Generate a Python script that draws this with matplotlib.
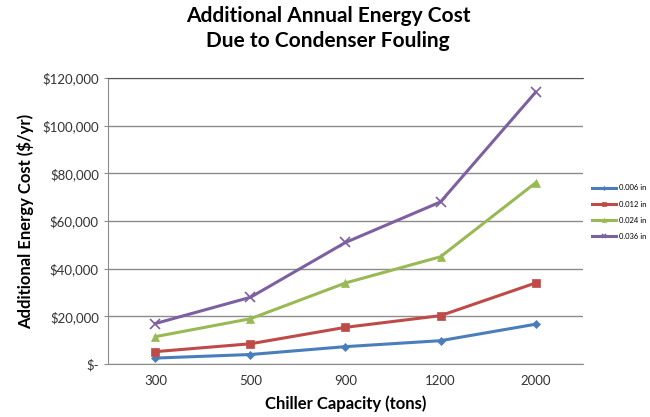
import matplotlib.pyplot as plt
from matplotlib.ticker import FuncFormatter

plt.rcParams['font.family'] = ['Lato', 'DejaVu Sans']

# Chart data
capacities = ['300', '500', '900', '1200', '2000']
cost_006 = [2500, 4000, 7300, 9800, 16700]
cost_012 = [5200, 8500, 15400, 20300, 34000]
cost_024 = [11500, 19000, 34000, 45000, 76000]
cost_036 = [17000, 28000, 51000, 68000, 114000]
series_labels = ['0.006 in', '0.012 in', '0.024 in', '0.036 in']

colors = ['#4A7EBB', '#BE4B48', '#98B954', '#7D60A0']
markers = ['D', 's', '^', 'x']
sizes = [4, 6, 6, 7]


def money(v, pos):
    if v == 0:
        return '$-'
    return '${:,.0f}'.format(v)


fig = plt.figure(figsize=(6.5, 4.17), dpi=100)
ax = fig.add_axes([0.166, 0.127, 0.731, 0.686])

x = range(len(capacities))
for vals, lab, c, m, s in zip([cost_006, cost_012, cost_024, cost_036],
                              series_labels, colors, markers, sizes):
    ax.plot(x, vals, color=c, marker=m, markersize=s, lw=2.2, label=lab,
            markeredgewidth=1.2 if m == 'x' else 0.5, markeredgecolor=c)

ax.set_xlim(-0.5, 4.5)
ax.set_ylim(0, 120000)
ax.set_yticks(range(0, 120001, 20000))
ax.yaxis.set_major_formatter(FuncFormatter(money))
ax.set_xticks(list(x))
ax.set_xticklabels(capacities)
ax.grid(axis='y', color='#8c8c8c', lw=1)
ax.set_axisbelow(True)

ax.spines['right'].set_visible(False)
ax.spines['top'].set_color('#555555')
ax.spines['left'].set_color('#8c8c8c')
ax.spines['bottom'].set_color('#8c8c8c')
ax.tick_params(axis='y', length=3, color='#8c8c8c', labelsize=9.5, labelcolor='#333333')
ax.tick_params(axis='x', length=0, labelsize=9.5, labelcolor='#333333', pad=8)

ax.set_xlabel('Chiller Capacity (tons)', fontsize=12, fontweight='bold', labelpad=6)
ax.set_ylabel('Additional Energy Cost ($/yr)', fontsize=12, fontweight='bold', labelpad=6)
fig.suptitle('Additional Annual Energy Cost\nDue to Condenser Fouling', fontsize=15,
             fontweight='bold', x=0.505, y=0.985, linespacing=1.3)

fig.legend(loc='upper left', bbox_to_anchor=(0.906, 0.565), frameon=False, fontsize=5.5,
           handlelength=3.2, markerscale=0.5, labelspacing=1.2, handletextpad=0.3,
           borderaxespad=0)

fig.savefig('out.png', dpi=100)
